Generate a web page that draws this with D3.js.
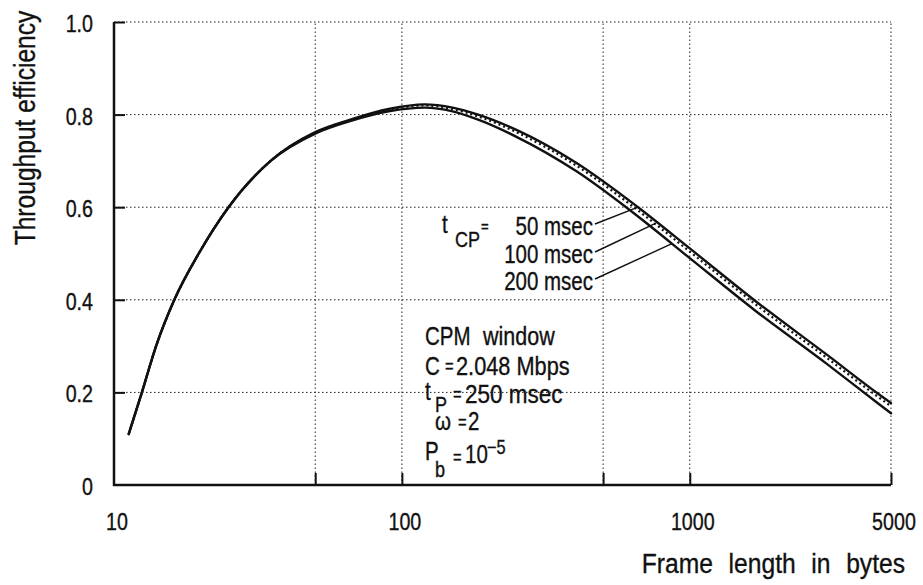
<!DOCTYPE html>
<html>
<head>
<meta charset="utf-8">
<script src="https://cdn.jsdelivr.net/npm/d3@7/dist/d3.min.js"></script>
<style>
  html, body { margin: 0; padding: 0; background: #fff; }
  svg { display: block; }
  text { font-family: "Liberation Sans", Arial, sans-serif; fill: #111; stroke: #111; stroke-width: 0.35px; }
</style>
</head>
<body>
<svg id="chart" width="923" height="585"></svg>
<script>
// ---- data ----
const frameLen = [11.25, 12.5, 14, 16.2, 19.7, 25, 35, 50, 67, 90, 120, 150, 184, 250, 403, 661, 1000, 1685, 3000, 4560, 5000];
const eff50  = [0.11, 0.20, 0.30, 0.40, 0.50, 0.60, 0.70, 0.762, 0.790, 0.812, 0.822, 0.815, 0.800, 0.767, 0.696, 0.600, 0.511, 0.398, 0.281, 0.195, 0.177];
const eff100 = [0.11, 0.20, 0.30, 0.40, 0.50, 0.60, 0.70, 0.761, 0.789, 0.810, 0.820, 0.812, 0.796, 0.762, 0.690, 0.593, 0.504, 0.391, 0.274, 0.188, 0.170];
const eff200 = [0.11, 0.20, 0.30, 0.40, 0.50, 0.60, 0.70, 0.759, 0.787, 0.807, 0.815, 0.807, 0.789, 0.752, 0.678, 0.580, 0.490, 0.377, 0.261, 0.174, 0.155];
const seriesNames = ["50 msec", "100 msec", "200 msec"];
const xTickValues = [10, 100, 1000, 5000];
const xTickLabels = ["10", "100", "1000", "5000"];
const xGridValues = [50, 100, 500, 1000, 5000];
const yTickValues = [0, 0.2, 0.4, 0.6, 0.8, 1.0];
const yTickLabels = ["0", "0.2", "0.4", "0.6", "0.8", "1.0"];
const leaderTargets = [661, 757, 867]; // frame length where each label's leader meets its curve

// ---- layout ----
const svg = d3.select("#chart");
const x = d3.scaleLog().domain([10, 5000]).range([114, 891]);
const y = d3.scaleLinear().domain([0, 1]).range([485, 22]);
const NARROW = 0.82;

function txt(px, py, str, size, anchor, sx, rot) {
  return svg.append("text")
    .attr("transform", `translate(${px},${py})` + (rot ? ` rotate(${rot})` : "") + ` scale(${sx || NARROW},1)`)
    .attr("font-size", size)
    .attr("text-anchor", anchor || "start")
    .text(str);
}

// gridlines (dotted)
const grid = svg.append("g").attr("stroke", "#222").attr("stroke-width", 1).attr("stroke-dasharray", "1.5,2.5");
grid.selectAll("line.h").data(yTickValues.filter(v => v > 0)).join("line")
  .attr("x1", x(10)).attr("x2", x(5000))
  .attr("y1", d => y(d)).attr("y2", d => y(d));
grid.selectAll("line.v").data(xGridValues).join("line")
  .attr("x1", d => x(d)).attr("x2", d => x(d))
  .attr("y1", y(0)).attr("y2", y(1));

// solid inner ticks via d3 axes
const gy = svg.append("g").attr("transform", `translate(${x(10)},0)`)
  .call(d3.axisLeft(y).tickValues(yTickValues.filter(v => v > 0)).tickSize(-11).tickFormat(""));
gy.select(".domain").remove();
gy.selectAll(".tick line").attr("stroke", "#111").attr("stroke-width", 2);
const gx = svg.append("g").attr("transform", `translate(0,${y(0)})`)
  .call(d3.axisBottom(x).tickValues(xGridValues).tickSize(-12).tickFormat(""));
gx.select(".domain").remove();
gx.selectAll(".tick line").attr("stroke", "#111").attr("stroke-width", 2);

// tick labels
yTickValues.forEach((v, i) => txt(93, y(v) + 10, yTickLabels[i], 24, "end"));
xTickValues.forEach((v, i) => txt(x(v) + 3, 530, xTickLabels[i], 24, "middle"));

// axis lines
svg.append("line").attr("x1", x(10)).attr("x2", x(10)).attr("y1", y(1)).attr("y2", y(0) + 1)
  .attr("stroke", "#111").attr("stroke-width", 2.5);
svg.append("line").attr("x1", x(10) - 1).attr("x2", x(5000)).attr("y1", y(0)).attr("y2", y(0))
  .attr("stroke", "#111").attr("stroke-width", 2.5);

// curves
const line = d3.line().x(d => x(d[0])).y(d => y(d[1])).curve(d3.curveMonotoneX);
const allSeries = [eff50, eff100, eff200];
const paths = allSeries.map((vals, i) => {
  const pts = frameLen.map((L, j) => [L, vals[j]]);
  return svg.append("path").datum(pts).attr("d", line)
    .attr("fill", "none").attr("stroke", "#111")
    .attr("stroke-width", i === 1 ? 2.2 : 2.4)
    .attr("stroke-dasharray", i === 1 ? "2,3" : null)
    .attr("stroke-linecap", i === 1 ? "butt" : "round");
});

function pointAtX(pathSel, px) {
  const node = pathSel.node();
  let lo = 0, hi = node.getTotalLength();
  for (let k = 0; k < 40; k++) {
    const mid = (lo + hi) / 2;
    if (node.getPointAtLength(mid).x < px) lo = mid; else hi = mid;
  }
  return node.getPointAtLength((lo + hi) / 2);
}

// curve labels with leaders
const labelX = 593, labelYs = [235, 263, 290];
seriesNames.forEach((name, i) => {
  txt(labelX, labelYs[i], name, 25, "end");
  const p = pointAtX(paths[i], x(leaderTargets[i]));
  svg.append("line").attr("x1", labelX + 2).attr("y1", labelYs[i] - 11)
    .attr("x2", p.x).attr("y2", p.y).attr("stroke", "#111").attr("stroke-width", 1.4);
});
txt(442, 233, "t", 25);
txt(455, 247, "CP", 22);
txt(481, 232, "=", 16);

// parameter block
const bx = 425;
txt(bx, 345, "CPM", 25);
txt(bx + 58, 345, "window", 25, "start", 0.86);
txt(bx, 375, "C", 25);
txt(bx + 20, 372, "=", 18);
txt(bx + 31, 375, "2.048 Mbps", 25, "start", 0.87);
txt(bx, 400, "t", 25);
txt(bx + 10, 412, "P", 22);
txt(bx + 28, 400, "=", 18);
txt(bx + 40, 403, "250 msec", 25, "start", 0.9);
txt(bx + 10, 430, "ω", 25);
txt(bx + 33, 428, "=", 18);
txt(bx + 43, 430, "2", 25);
txt(bx, 460, "P", 25);
txt(bx + 10, 477, "b", 22);
txt(bx + 28, 463, "=", 18);
txt(bx + 40, 463, "10", 25);
txt(bx + 62, 454, "−5", 20);

// axis titles
txt(35, 128, "Throughput efficiency", 30, "middle", NARROW, -90);
svg.append("text")
  .attr("transform", `translate(905,573) scale(0.88,1)`)
  .attr("text-anchor", "end").attr("font-size", 28).attr("word-spacing", 10)
  .text("Frame length in bytes");
</script>
</body>
</html>
